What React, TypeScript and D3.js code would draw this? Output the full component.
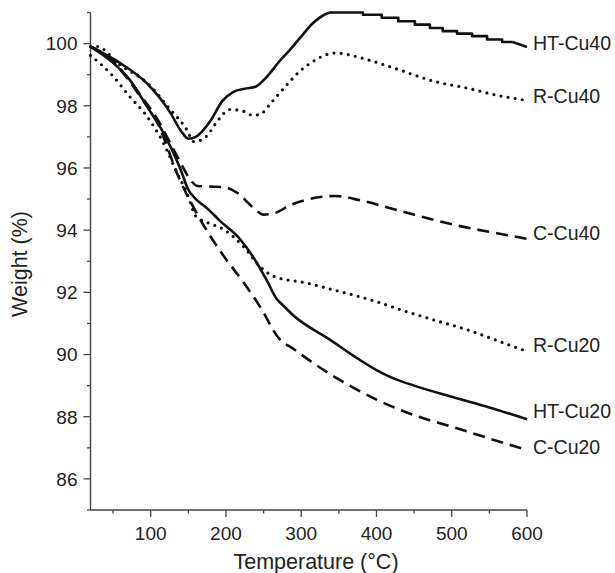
import React from "react";
import * as d3 from "d3";

type P = [number, number];

// Temperature (°C), Weight (%)
const htCu40Rise: P[] = [[20,99.92],[30,99.78],[59,99.38],[95,98.72],[126,97.78],[140,97.2],[150,96.94],[160,97.0],[179,97.5],[195,98.15],[210,98.45],[225,98.55],[240,98.62],[255,98.95],[270,99.4],[285,99.8],[299,100.2],[316,100.67],[330,100.92],[338,101.0]];
const htCu40Steps: P[] = [[338,101.0],[382,100.93],[407,100.83],[429,100.72],[451,100.61],[471,100.5],[488,100.4],[507,100.32],[527,100.24],[547,100.13],[567,100.05],[581,100.05]];
const htCu40Tail: P[] = [[581,100.05],[600,99.89]];
const rCu40: P[] = [[20,99.9],[28,99.91],[59,99.32],[95,98.74],[126,97.88],[148,97.23],[157,96.85],[165,96.88],[174,97.02],[190,97.55],[205,97.88],[220,97.85],[235,97.7],[245,97.72],[260,98.1],[280,98.65],[298,99.11],[316,99.43],[334,99.65],[347,99.7],[365,99.63],[387,99.49],[431,99.15],[476,98.79],[520,98.57],[564,98.32],[600,98.17]];
const cCu40: P[] = [[20,99.9],[50,99.4],[86,98.35],[108,97.6],[126,96.8],[139,96.2],[152,95.65],[162,95.42],[180,95.4],[198,95.38],[215,95.2],[235,94.75],[250,94.5],[265,94.55],[285,94.8],[307,94.98],[330,95.08],[345,95.1],[380,94.95],[431,94.62],[511,94.13],[560,93.9],[600,93.72]];
const rCu20: P[] = [[20,99.62],[50,98.95],[72,98.3],[95,97.66],[117,96.8],[135,95.84],[148,95.2],[160,94.45],[175,94.25],[197,94.02],[223,93.48],[245,92.84],[263,92.52],[307,92.3],[338,92.11],[400,91.7],[431,91.45],[475,91.12],[520,90.8],[560,90.45],[600,90.1]];
const htCu20: P[] = [[20,99.9],[50,99.38],[72,98.84],[95,97.98],[117,97.13],[139,96.0],[150,95.3],[160,95.0],[175,94.7],[192,94.3],[219,93.7],[241,92.95],[255,92.35],[267,91.8],[275,91.6],[290,91.25],[338,90.48],[370,89.95],[400,89.5],[421,89.25],[450,89.0],[500,88.64],[550,88.3],[600,87.92]];
const cCu20: P[] = [[20,99.9],[50,99.45],[86,98.3],[108,97.5],[139,95.6],[161,94.55],[196,93.2],[223,92.33],[245,91.55],[271,90.5],[290,90.18],[300,90.0],[350,89.2],[400,88.55],[450,88.05],[500,87.68],[550,87.3],[600,86.93]];

const seriesLabels = ["HT-Cu40", "R-Cu40", "C-Cu40", "R-Cu20", "HT-Cu20", "C-Cu20"];
const labelAnchors = [100.02, 98.3, 93.92, 90.3, 88.2, 87.03];

const xMajor = [100, 200, 300, 400, 500, 600];
const xMinor = [50, 150, 250, 350, 450, 550];
const yMajor = [86, 88, 90, 92, 94, 96, 98, 100];
const yMinor = [85, 87, 89, 91, 93, 95, 97, 99, 101];

const W = 615, H = 573;
const FONT = "'Liberation Sans', Arial, Helvetica, sans-serif";

export default function App() {
  const x = d3.scaleLinear().domain([20, 600]).range([90.5, 527]);
  const y = d3.scaleLinear().domain([85, 101]).range([510, 12.5]);
  const smooth = d3.line<P>().x(d => x(d[0])).y(d => y(d[1])).curve(d3.curveMonotoneX);
  const step = d3.line<P>().x(d => x(d[0])).y(d => y(d[1])).curve(d3.curveStepAfter);
  const lin = d3.line<P>().x(d => x(d[0])).y(d => y(d[1]));

  const axisColor = "#444";
  const solid = { fill: "none", stroke: "#111", strokeWidth: 2.6, strokeLinejoin: "round" as const };
  const dotted = { fill: "none", stroke: "#111", strokeWidth: 3.2, strokeLinecap: "round" as const, strokeDasharray: "0 7.2" };
  const dashed = { fill: "none", stroke: "#111", strokeWidth: 2.6, strokeDasharray: "12 7" };

  const [x0, x1] = x.range();
  const [y0, y1] = y.range();

  return (
    <svg width={W} height={H} style={{ position: "absolute", left: 0, top: 0, background: "#fff" }} fontFamily={FONT}>
      {/* axes */}
      <line x1={x0} x2={x1} y1={y0} y2={y0} stroke={axisColor} strokeWidth={1.4} />
      <line x1={x0} x2={x0} y1={y0} y2={y1} stroke={axisColor} strokeWidth={1.4} />
      {xMajor.map(t => (
        <g key={"xm" + t}>
          <line x1={x(t)} x2={x(t)} y1={y0} y2={y0 + 7} stroke={axisColor} strokeWidth={1.3} />
          <text x={x(t)} y={y0 + 30} textAnchor="middle" fontSize={19} fill="#222">{t}</text>
        </g>
      ))}
      {xMinor.map(t => (
        <line key={"xn" + t} x1={x(t)} x2={x(t)} y1={y0} y2={y0 + 3.5} stroke={axisColor} strokeWidth={1.3} />
      ))}
      {yMajor.map(t => (
        <g key={"ym" + t}>
          <line x1={x0 - 7} x2={x0} y1={y(t)} y2={y(t)} stroke={axisColor} strokeWidth={1.3} />
          <text x={x0 - 13} y={y(t) + 6.8} textAnchor="end" fontSize={19} fill="#222">{t}</text>
        </g>
      ))}
      {yMinor.map(t => (
        <line key={"yn" + t} x1={x0 - 3.5} x2={x0} y1={y(t)} y2={y(t)} stroke={axisColor} strokeWidth={1.3} />
      ))}
      <text x={316} y={569} textAnchor="middle" fontSize={21.5} fill="#222">Temperature (°C)</text>
      <text transform={`translate(27,264) rotate(-90)`} textAnchor="middle" fontSize={21.5} fill="#222">Weight (%)</text>

      {/* series */}
      <path d={smooth(cCu20) || ""} {...dashed} />
      <path d={smooth(cCu40) || ""} {...dashed} />
      <path d={smooth(rCu20) || ""} {...dotted} />
      <path d={smooth(rCu40) || ""} {...dotted} />
      <path d={smooth(htCu20) || ""} {...solid} />
      <path d={(smooth(htCu40Rise) || "") + (step(htCu40Steps) || "") + (lin(htCu40Tail) || "")} {...solid} />

      {seriesLabels.map((s, i) => (
        <text key={s} x={x(600) + 6} y={y(labelAnchors[i]) + 7} fontSize={19.5} fill="#222">{s}</text>
      ))}
    </svg>
  );
}
